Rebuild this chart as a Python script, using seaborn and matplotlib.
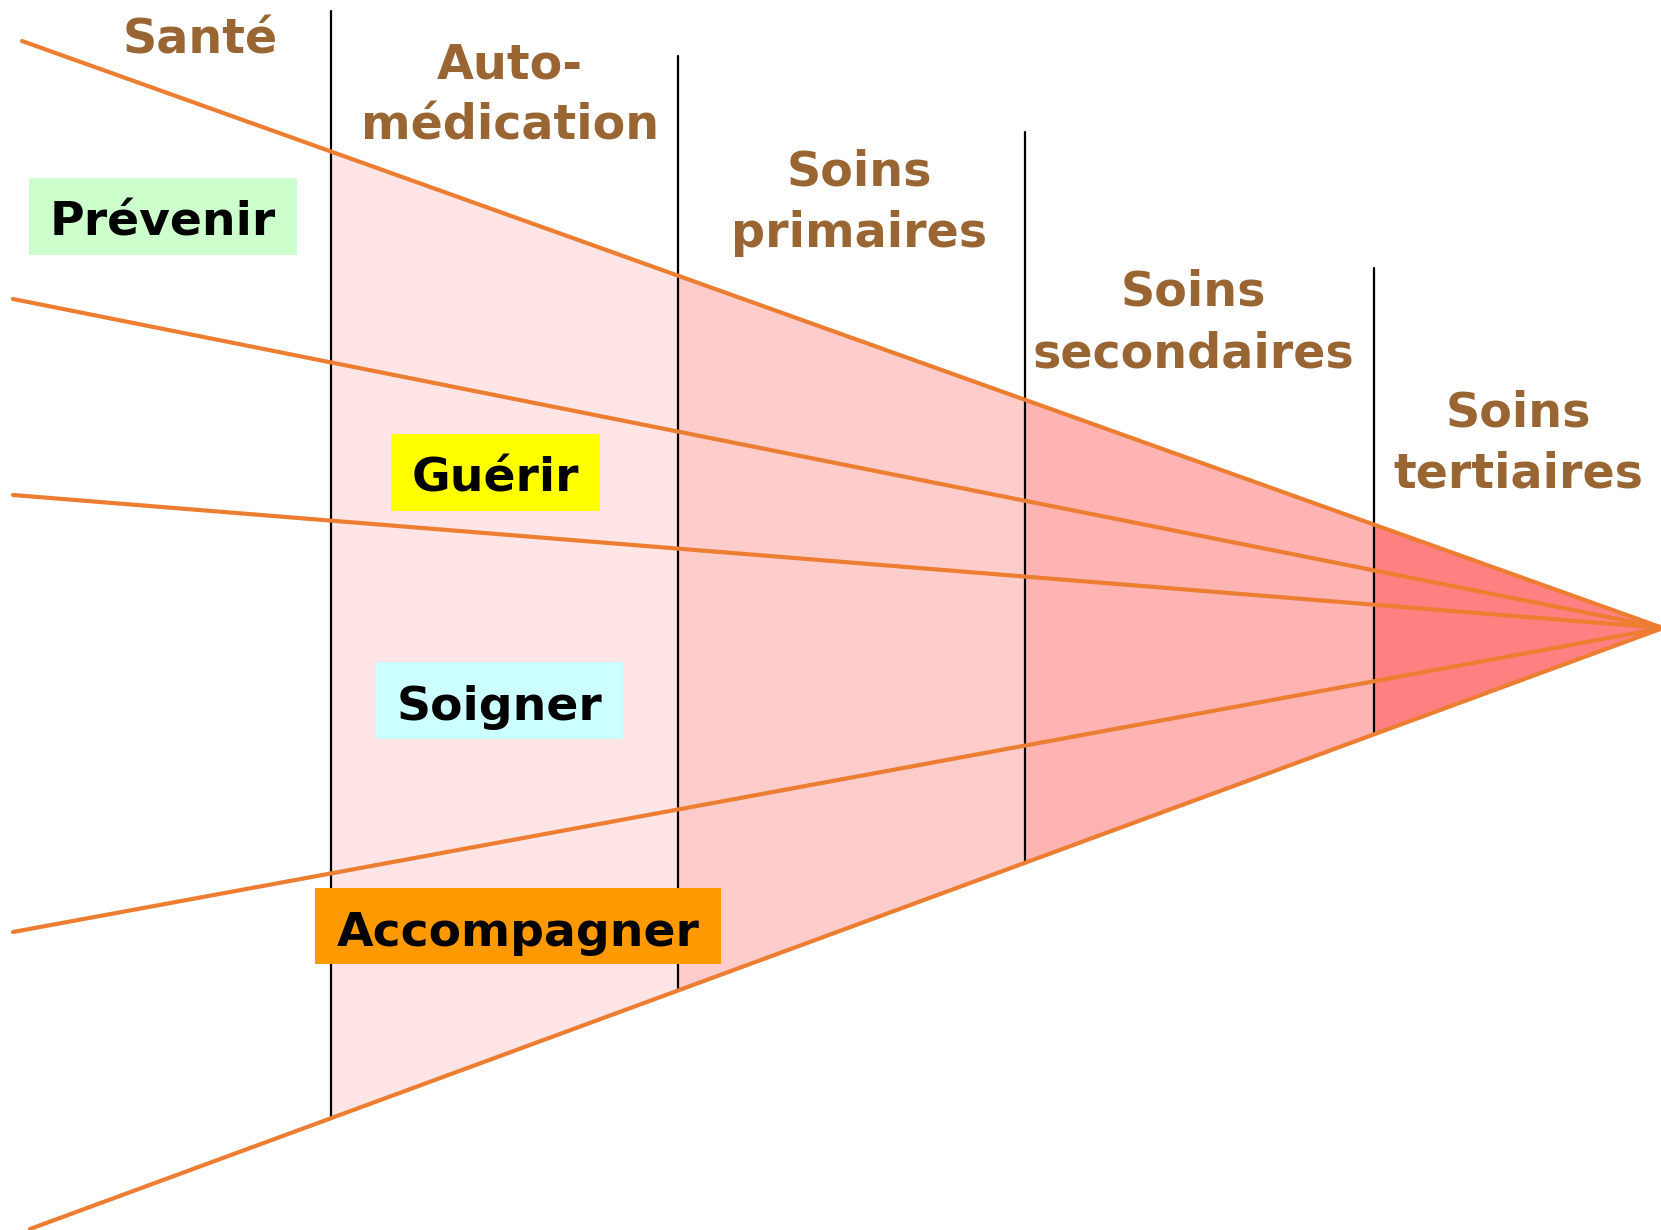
import numpy as np
import pandas as pd
import matplotlib
matplotlib.use('Agg')
import matplotlib.pyplot as plt
import seaborn as sns
from matplotlib.patches import Rectangle

# Lines converging to the apex (pixel space of the picture)
apex_x, apex_y = 1663, 628
line_ids = ['haut', 'l2', 'l3', 'l4', 'bas']
line_x0 = [22, 13, 13, 13, 30]
line_y0 = [41, 299, 495, 932, 1229]

# Care levels: separators and header labels
sep_x = [331, 678, 1025, 1374]
sep_top = [11, 56, 132, 268]
level_labels = ['Santé', 'Auto-\nmédication', 'Soins\nprimaires', 'Soins\nsecondaires', 'Soins\ntertiaires']
level_x = [200, 510, 859, 1193, 1518]
level_base = [53, 140, 247, 367, 488]   # baseline of the last line
zone_colors = ['#FFE5E5', '#FFCCCC', '#FFB3B3', '#FF8080']

# Actions (boxed labels)
actions = ['Prévenir', 'Guérir', 'Soigner', 'Accompagner']
action_x = [163, 495, 499, 518]
action_y = [216, 472, 700, 926]
action_w = [268, 209, 247, 406]
action_h = [77, 77, 77, 76]
action_colors = ['#CCFFCC', '#FFFF00', '#CCFFFF', '#FF9900']

sns.set_style('white')
plt.rcParams['font.family'] = ['DejaVu Sans']

fig = plt.figure(figsize=(16.61, 12.30), dpi=100)
ax = fig.add_axes([0, 0, 1, 1])

top_x = [line_x0[0], apex_x]
top_y = [line_y0[0], apex_y]
bot_x = [line_x0[-1], apex_x]
bot_y = [line_y0[-1], apex_y]

# shaded zones between the outer lines
bounds = sep_x + [apex_x]
for i, c in enumerate(zone_colors):
    xs = np.linspace(bounds[i], bounds[i + 1], 50)
    ax.fill_between(xs, np.interp(xs, top_x, top_y), np.interp(xs, bot_x, bot_y),
                    color=c, lw=0, zorder=1)

# vertical separators, ending on the bottom line
for x, t in zip(sep_x, sep_top):
    ax.plot([x, x], [t, np.interp(x, bot_x, bot_y)], color='black', lw=1.6, zorder=2)

# orange lines
rows = []
for lid, x0, y0 in zip(line_ids, line_x0, line_y0):
    rows.append({'line': lid, 'x': x0, 'y': y0})
    rows.append({'line': lid, 'x': apex_x, 'y': apex_y})
df = pd.DataFrame(rows)
sns.lineplot(data=df, x='x', y='y', units='line', estimator=None, sort=False,
             color='#ED7D31', lw=3, ax=ax, zorder=3)
ax.set_xlim(0, 1661)
ax.set_ylim(1230, 0)
ax.axis('off')

# headers
for lab, x, y in zip(level_labels, level_x, level_base):
    ax.text(x, y, lab, ha='center', va='baseline', fontsize=34.3, fontweight='bold',
            color='#996633', linespacing=1.38, zorder=5)

# boxed actions
for lab, x, y, w, h, c in zip(actions, action_x, action_y, action_w, action_h, action_colors):
    ax.add_patch(Rectangle((x - w / 2, y - h / 2), w, h, color=c, lw=0, zorder=4))
    ax.text(x, y + 20, lab, ha='center', va='baseline', fontsize=34, fontweight='bold',
            color='black', zorder=5)

fig.savefig('out.png', dpi=100)
